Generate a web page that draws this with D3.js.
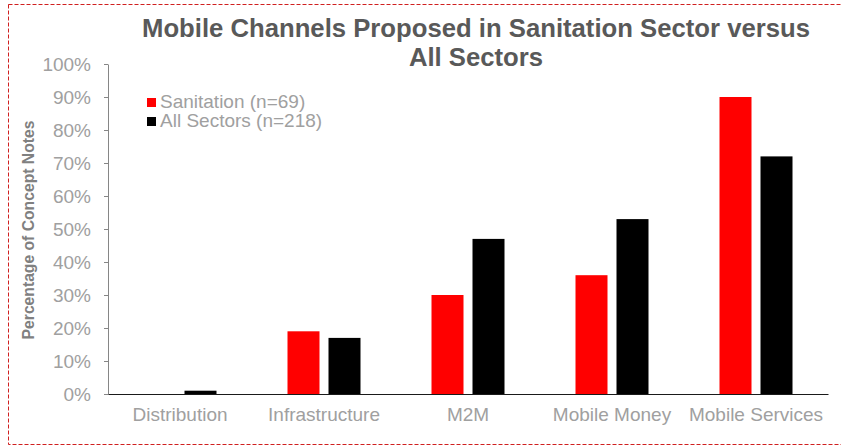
<!DOCTYPE html>
<html>
<head>
<meta charset="utf-8">
<script src="https://cdn.jsdelivr.net/npm/d3@7"></script>
<style>
  html, body { margin: 0; padding: 0; background: #fff; }
  svg { display: block; font-family: "Liberation Sans", Arial, sans-serif; }
</style>
</head>
<body>
<svg id="chart" width="841" height="447"></svg>
<script>
// Channel categories and share of concept notes (%) per series
const categories = ["Distribution", "Infrastructure", "M2M", "Mobile Money", "Mobile Services"];
const seriesNames = ["Sanitation (n=69)", "All Sectors (n=218)"];
const sanitation = [0, 19, 30, 36, 90];
const allSectors = [1, 17, 47, 53, 72];
const yTicks = [0, 10, 20, 30, 40, 50, 60, 70, 80, 90, 100];
const colors = ["#ff0000", "#000000"];

const svg = d3.select("#chart");
const W = 841, H = 447;
const margin = { left: 108, right: 13, top: 64, bottom: 53 };

// Dashed frame around the chart area
svg.append("rect")
  .attr("x", 8.5).attr("y", 4.5)
  .attr("width", 840).attr("height", 440)
  .attr("fill", "none")
  .attr("stroke", "#d02020")
  .attr("stroke-width", 1)
  .attr("stroke-dasharray", "4,2");

const x0 = d3.scaleBand()
  .domain(categories)
  .range([margin.left, W - margin.right])
  .paddingInner(0).paddingOuter(0);

const x1 = d3.scaleBand()
  .domain(seriesNames)
  .range([0, 73])
  .paddingInner(0.2195);

const y = d3.scaleLinear()
  .domain([0, 100])
  .range([H - margin.bottom, margin.top]);

const groupOffset = (x0.bandwidth() - 73) / 2;

const rows = categories.map((c, i) => ({
  category: c,
  values: [sanitation[i], allSectors[i]]
}));

// Bars
const groups = svg.append("g").selectAll("g")
  .data(rows).join("g")
  .attr("transform", d => `translate(${x0(d.category) + groupOffset},0)`);

groups.selectAll("rect")
  .data(d => d.values.map((v, j) => ({ name: seriesNames[j], value: v, j })))
  .join("rect")
  .attr("x", d => x1(d.name))
  .attr("width", x1.bandwidth())
  .attr("y", d => y(d.value))
  .attr("height", d => y(0) - y(d.value))
  .attr("fill", d => colors[d.j]);

// Y axis
const yAxis = svg.append("g")
  .attr("transform", `translate(${margin.left},0)`)
  .call(d3.axisLeft(y).tickValues(yTicks).tickFormat(d => d + "%").tickSize(4).tickSizeOuter(0).tickPadding(13));
yAxis.select(".domain").attr("stroke", "#868686");
yAxis.selectAll(".tick line").attr("stroke", "#868686");
yAxis.selectAll(".tick text")
  .attr("fill", "#a0a0a0")
  .attr("font-size", "19px")
  .attr("font-family", "Liberation Sans, Arial, sans-serif");

// X axis
const xAxis = svg.append("g")
  .attr("transform", `translate(0,${y(0)})`)
  .call(d3.axisBottom(x0).tickSize(0).tickPadding(14));
xAxis.select(".domain").attr("stroke", "#1a1a1a").attr("stroke-width", 1.2);
xAxis.selectAll(".tick text")
  .attr("fill", "#a0a0a0")
  .attr("font-size", "19px")
  .attr("font-family", "Liberation Sans, Arial, sans-serif");

// Y axis title
svg.append("text")
  .attr("transform", `translate(34,${(y(0) + y(100)) / 2 + 1}) rotate(-90)`)
  .attr("text-anchor", "middle")
  .attr("fill", "#808080")
  .attr("font-weight", "bold")
  .attr("font-size", "15.7px")
  .text("Percentage of Concept Notes");

// Title
const title = svg.append("text")
  .attr("text-anchor", "middle")
  .attr("fill", "#595959")
  .attr("font-weight", "bold")
  .attr("font-size", "25.7px");
title.append("tspan").attr("x", 476).attr("y", 37).text("Mobile Channels Proposed in Sanitation Sector versus");
title.append("tspan").attr("x", 476).attr("y", 66).text("All Sectors");

// Legend
const legend = svg.append("g").attr("transform", "translate(147,98)");
seriesNames.forEach((name, i) => {
  const g = legend.append("g").attr("transform", `translate(0,${i * 19})`);
  g.append("rect").attr("x", 0).attr("y", 0).attr("width", 9).attr("height", 9).attr("fill", colors[i]);
  g.append("text")
    .attr("x", 13).attr("y", 10)
    .attr("fill", "#a0a0a0")
    .attr("font-size", "19px")
    .text(name);
});
</script>
</body>
</html>
